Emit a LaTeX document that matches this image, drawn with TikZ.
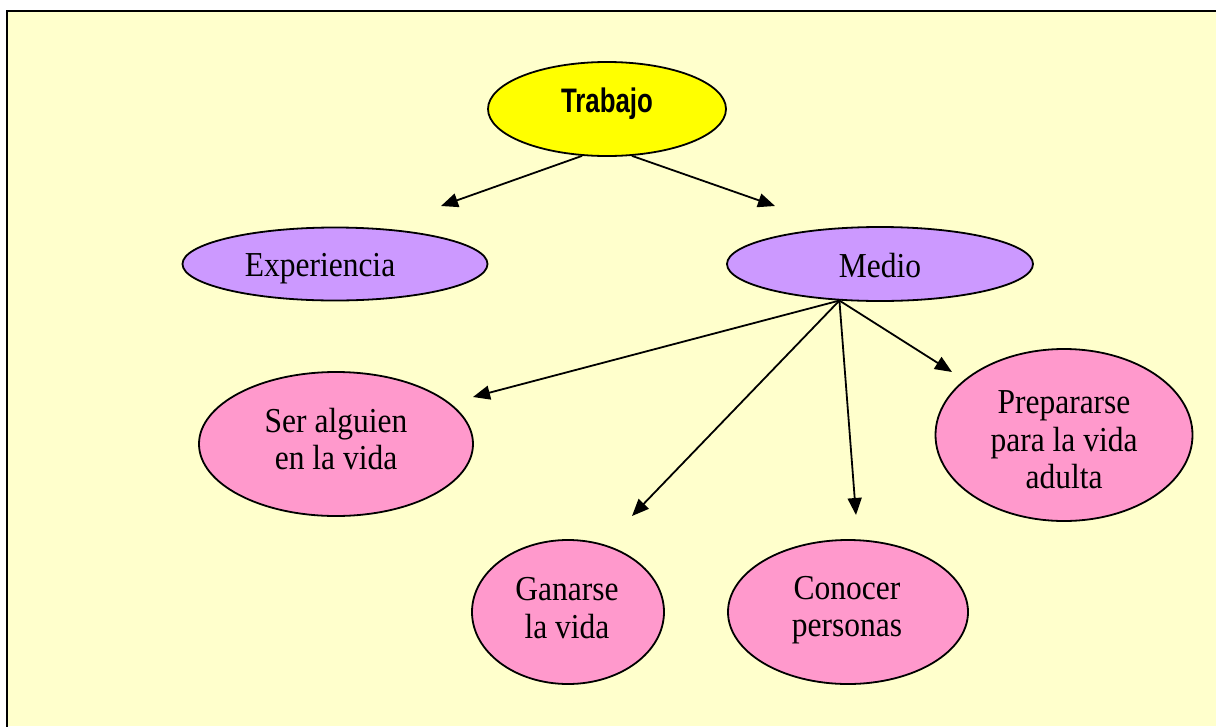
\documentclass[tikz,border=0pt]{standalone}
\usepackage{fontspec}
\setmainfont[FakeStretch=0.9]{Liberation Serif}
\newfontfamily\arialfont[FakeStretch=0.76]{Liberation Sans}
\usetikzlibrary{shapes.geometric,arrows.meta}
\definecolor{bgyellow}{HTML}{FFFFCC}
\definecolor{topyellow}{HTML}{FFFF00}
\definecolor{lilac}{HTML}{CC99FF}
\definecolor{pinkish}{HTML}{FF99CC}
\tikzset{
  oval/.style={ellipse, draw=black, line width=1.8pt, inner sep=0pt},
  ovaltext/.style={align=center, inner sep=0pt, font=\fontsize{35}{37.5}\selectfont},
  linkarrow/.style={line width=1.8pt, -{Triangle[length=17pt,width=14pt]}},
}
\begin{document}
\begin{tikzpicture}[x=1pt,y=-1pt]
\useasboundingbox (0,0) rectangle (1216,726);
\fill[white] (0,0) rectangle (1216,726);
\fill[bgyellow] (7,11) rectangle (1216,726);
\draw[line width=2.4pt] (7,730) -- (7,11) -- (1220,11);

\node[oval, fill=topyellow, minimum width=238pt, minimum height=94pt] (trabajo) at (607,109) {};
\node[inner sep=0pt, font=\arialfont\bfseries\fontsize{34}{37}\selectfont] (trabajotext) at (607,104) {Trabajo};

\node[oval, fill=lilac, minimum width=305pt, minimum height=73pt] (experiencia) at (335,264) {};
\node[ovaltext] (experienciatext) at (320,269) {Experiencia};
\node[oval, fill=lilac, minimum width=306pt, minimum height=74pt] (medio) at (880,264) {};
\node[ovaltext] (mediotext) at (880,266) {Medio};

\node[oval, fill=pinkish, minimum width=274pt, minimum height=144pt] (ser) at (336,444) {};
\node[ovaltext] (sertext) at (336,439) {Ser alguien\\en la vida};
\node[oval, fill=pinkish, minimum width=257pt, minimum height=172pt] (prep) at (1064,435) {};
\node[ovaltext] (preptext) at (1064,440) {Prepararse\\para la vida\\adulta};
\node[oval, fill=pinkish, minimum width=192pt, minimum height=144pt] (ganar) at (568,612) {};
\node[ovaltext] (ganartext) at (567,608) {Ganarse\\la vida};
\node[oval, fill=pinkish, minimum width=240pt, minimum height=144pt] (conocer) at (848,612) {};
\node[ovaltext] (conocertext) at (847,610) {Conocer\\personas};

\coordinate (eExp) at (441,206);
\coordinate (eMed) at (775,206);
\coordinate (eSer) at (473,397);
\coordinate (eGan) at (632,516);
\coordinate (eCon) at (856,515);
\coordinate (ePre) at (952,372);

\draw[linkarrow] (trabajo.-118) -- (eExp);
\draw[linkarrow] (trabajo.-62) -- (eMed);
\draw[linkarrow] (medio.-138) -- (eSer);
\draw[linkarrow] (medio.-138) -- (eGan);
\draw[linkarrow] (medio.-138) -- (eCon);
\draw[linkarrow] (medio.-138) -- (ePre);
\end{tikzpicture}
\end{document}
